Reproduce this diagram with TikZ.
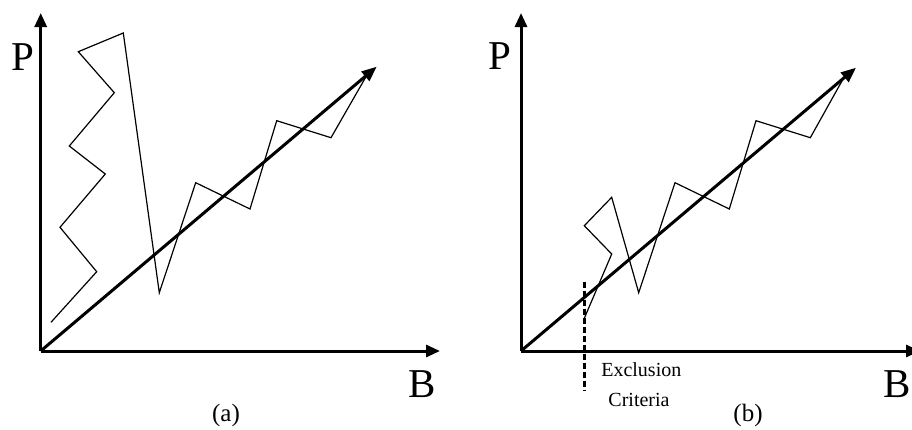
\documentclass[tikz,border=0pt]{standalone}
\usepackage{fontspec}
\setmainfont{Liberation Serif}
\usetikzlibrary{arrows.meta}
\begin{document}
\begin{tikzpicture}[x=1pt,y=-1pt,
  axis/.style={line width=3pt,-{Triangle[length=14pt,width=12pt]}},
  trend/.style={line width=3pt,-{Triangle[length=15pt,width=12pt]}},
  zig/.style={line width=1.2pt,line join=miter},
  big/.style={font=\fontsize{41}{41}\selectfont,inner sep=0pt},
  lbl/.style={font=\fontsize{25}{25}\selectfont,inner sep=0pt},
  small/.style={font=\fontsize{20}{20}\selectfont,inner sep=0pt,anchor=base},
  excl/.style={line width=2.5pt,dash pattern=on 6pt off 3pt}]
\useasboundingbox (0,0) rectangle (912,429);
\clip (0,0) rectangle (912,429);

% ---------- panel (a)
\coordinate (oa) at (40.7,351);
\coordinate (ya) at (40.7,13);
\coordinate (xa) at (440,351);
\coordinate (ta) at (376.7,66.7);
\draw[axis] (oa) -- (ya);
\draw[axis] (oa) -- (xa);
\draw[zig] (51,322.3) -- (96.7,271.7) -- (60,227.3) -- (105.3,174) -- (69.3,146)
  -- (114.3,92.7) -- (78.3,51.7) -- (123.3,33) -- (159.3,292.7) -- (195.7,182.7)
  -- (250,209) -- (276.7,120.7) -- (331,137.7) -- (366,76.7);
\draw[trend] (oa) -- (ta);
\node[big] (pa) at (22.5,57) {P};
\node[big] (ba) at (421.7,384) {B};
\node[lbl] (la) at (226,415.5) {(a)};

% ---------- panel (b)
\coordinate (ob) at (521,351);
\coordinate (yb) at (521,13);
\coordinate (xb) at (920,351);
\coordinate (tb) at (856,67.7);
\draw[axis] (ob) -- (yb);
\draw[axis] (ob) -- (xb);
\draw[zig] (584.3,318.3) -- (611.7,254) -- (584.3,225.7) -- (611.7,197.3)
  -- (638.7,292.7) -- (675,182.7) -- (729.3,209) -- (756,120.7) -- (810.3,137.7)
  -- (845.3,75);
\draw[trend] (ob) -- (tb);
\coordinate (ea) at (584.3,281.7);
\coordinate (eb) at (584.3,390);
\draw[excl] (ea) -- (eb);
\node[small] (ex1) at (641.3,376.7) {Exclusion};
\node[small] (ex2) at (639,406.7) {Criteria};
\node[big] (pb) at (500,56) {P};
\node[big] (bb) at (897.5,384) {B};
\node[lbl] (lb) at (748,415.5) {(b)};
\end{tikzpicture}
\end{document}
